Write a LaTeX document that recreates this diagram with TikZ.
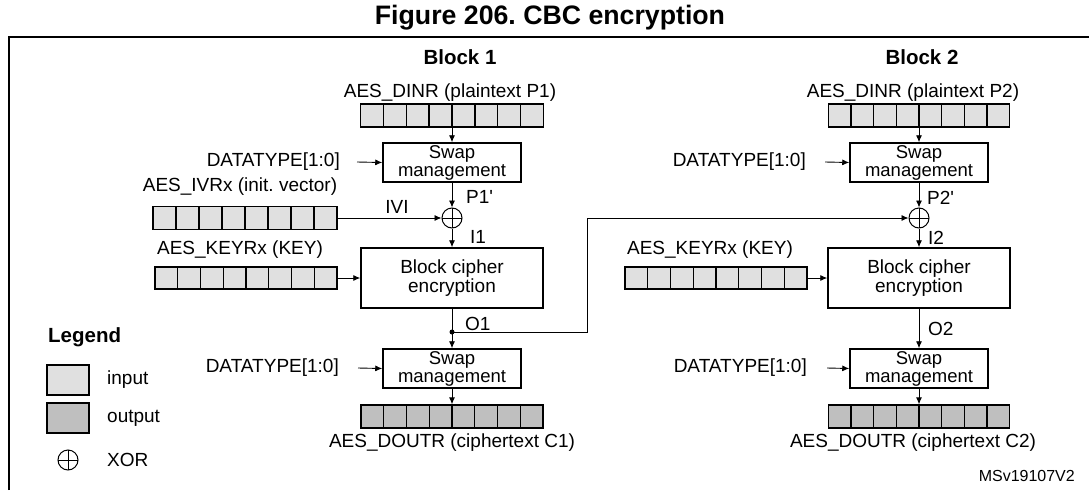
\documentclass[tikz,border=0pt]{standalone}
\usepackage{fontspec}
\setmainfont{Liberation Sans}
\usetikzlibrary{arrows.meta,calc}
\frenchspacing
\tikzset{
  txt/.style={font=\fontsize{19}{19}\selectfont, inner sep=0pt},
  boxn/.style={draw, line width=1.5pt, align=center, inner sep=0pt, font=\fontsize{19}{19}\selectfont},
  swapbox/.style={boxn, minimum width=138pt, minimum height=39pt, font=\fontsize{18.5}{18}\selectfont},
  cipherbox/.style={boxn, minimum width=182pt, minimum height=60pt},
  reg/.style={draw, line width=1.3pt, minimum width=182pt, minimum height=23pt, inner sep=0pt,
    path picture={\foreach \i in {1,...,7}{\draw[line width=1.3pt]
      ($(path picture bounding box.north west)!\i/8!(path picture bounding box.north east)$) --
      ($(path picture bounding box.south west)!\i/8!(path picture bounding box.south east)$);}}},
  regin/.style={reg, fill=black!12},
  regout/.style={reg, fill=black!25},
  xorn/.style={draw, circle, line width=1pt, minimum size=20pt, inner sep=0pt,
    path picture={\draw[line width=1pt] (path picture bounding box.north) -- (path picture bounding box.south)
      (path picture bounding box.west) -- (path picture bounding box.east);}},
  conn/.style={line width=0.9pt, -{Latex[length=7pt,width=6pt]}},
  wire/.style={line width=0.9pt},
  head/.style={font=\bfseries\fontsize{20.5}{21}\selectfont, inner sep=0pt},
}
\begin{document}
\begin{tikzpicture}[x=1pt,y=-1pt]
\useasboundingbox (0,0) rectangle (1089,490);
% frame
\draw[line width=2pt] (9,490) -- (9,37) -- (1089,37);
\node[font=\bfseries\fontsize{26.7}{28}\selectfont, inner sep=0pt] (title) at (550,18) {Figure 206. CBC encryption};

% ---------- Block 1 ----------
\node[head] (b1) at (460,57) {Block 1};
\node[txt] (din1l) at (450,93) {AES\_DINR (plaintext P1)};
\node[regin, minimum width=183pt] (din1) at (452,115.5) {};
\node[swapbox] (sw1a) at (452,162.5) {Swap\\management};
\node[txt, anchor=east] (dt1a) at (340,162) {DATATYPE[1:0]};
\node[txt] (iv1l) at (240,187) {AES\_IVRx (init. vector)};
\node[regin, minimum width=184pt] (iv1) at (245,218) {};
\node[xorn] (xor1) at (452,218) {};
\node[txt, anchor=base] (ivi) at (397,213) {IVI};
\node[txt, anchor=base west] (p1) at (466,203) {P1\textquotesingle};
\node[txt, anchor=base west] (i1) at (470,243) {I1};
\node[cipherbox] (ci1) at (452,278) {Block cipher\\encryption};
\node[txt] (key1l) at (240,250) {AES\_KEYRx (KEY)};
\node[regin, minimum height=22pt] (key1) at (246,278) {};
\node[txt, anchor=base west] (o1) at (465,330) {O1};
\node[circle, fill, inner sep=0pt, minimum size=5pt] (d1) at (452,332) {};
\node[swapbox] (sw1b) at (452,368.5) {Swap\\management};
\node[txt, anchor=east] (dt1b) at (339,368) {DATATYPE[1:0]};
\node[regout] (out1) at (452,416.5) {};
\node[txt] (out1l) at (452,443) {AES\_DOUTR (ciphertext C1)};

\draw[conn] (din1.south) -- (din1.south |- sw1a.north);
\draw[conn] ([xshift=17pt]dt1a.east) -- (sw1a.west);
\draw[conn] (sw1a.south) -- (xor1.north);
\draw[conn] (iv1.east) -- (xor1.west);
\draw[conn] (xor1.south) -- (ci1.north);
\draw[conn] (key1.east) -- (ci1.west);
\draw[wire] (ci1.south) -- (d1.center);
\draw[conn] (d1.center) -- (sw1b.north);
\draw[conn] ([xshift=19pt]dt1b.east) -- (sw1b.west);
\draw[conn] (sw1b.south) -- (out1.north);

% ---------- Block 2 ----------
\node[head] (b2) at (922,57) {Block 2};
\node[txt] (din2l) at (913,93) {AES\_DINR (plaintext P2)};
\node[regin, minimum width=181pt] (din2) at (919,115.5) {};
\node[swapbox] (sw2a) at (919,162.5) {Swap\\management};
\node[txt, anchor=east] (dt2a) at (806,162) {DATATYPE[1:0]};
\node[xorn] (xor2) at (919,218) {};
\node[txt, anchor=base west] (p2) at (927,204) {P2\textquotesingle};
\node[txt, anchor=base west] (i2) at (928,244) {I2};
\node[cipherbox] (ci2) at (919,278) {Block cipher\\encryption};
\node[txt] (key2l) at (710,250) {AES\_KEYRx (KEY)};
\node[regin, minimum height=22pt] (key2) at (716,278) {};
\node[txt, anchor=base west] (o2) at (928,335) {O2};
\node[swapbox] (sw2b) at (919,368.5) {Swap\\management};
\node[txt, anchor=east] (dt2b) at (807,368) {DATATYPE[1:0]};
\node[regout, minimum width=181pt] (out2) at (919,416.5) {};
\node[txt] (out2l) at (913,443) {AES\_DOUTR (ciphertext C2)};
\coordinate (fb) at (587,332);

\draw[conn] (din2.south) -- (sw2a.north);
\draw[conn] ([xshift=19pt]dt2a.east) -- (sw2a.west);
\draw[conn] (sw2a.south) -- (xor2.north);
\draw[conn] (d1.center) -- (fb) |- (xor2.west);
\draw[conn] (xor2.south) -- (ci2.north);
\draw[conn] (key2.east) -- (ci2.west);
\draw[conn] (ci2.south) -- (sw2b.north);
\draw[conn] ([xshift=20pt]dt2b.east) -- (sw2b.west);
\draw[conn] (sw2b.south) -- (out2.north);

% ---------- Legend ----------
\node[head, anchor=west] (lg) at (48,337) {Legend};
\node[draw, line width=1.3pt, fill=black!12, minimum width=42pt, minimum height=30pt, inner sep=0pt] (lgin) at (68,380) {};
\node[draw, line width=1.3pt, fill=black!25, minimum width=42pt, minimum height=30pt, inner sep=0pt] (lgout) at (68,418) {};
\node[xorn] (lgxor) at (68,460) {};
\node[txt, anchor=west] (lgint) at (107,380) {input};
\node[txt, anchor=west] (lgoutt) at (107,418) {output};
\node[txt, anchor=west] (lgxort) at (107,460) {XOR};

\node[font=\fontsize{16}{16}\selectfont, inner sep=0pt, anchor=east] (ms) at (1075,476) {MSv19107V2};
\end{tikzpicture}
\end{document}
